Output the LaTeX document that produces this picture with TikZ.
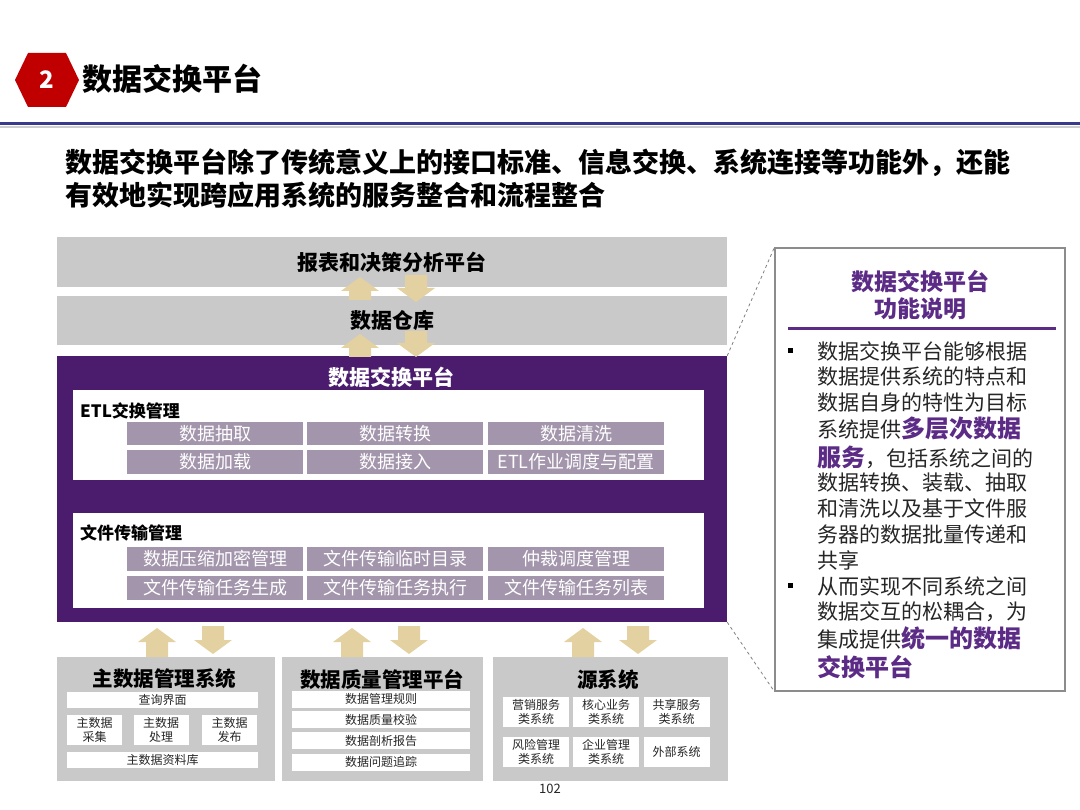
\documentclass[tikz,border=0pt]{standalone}
\usepackage{fontspec}
\setmainfont{Noto Sans CJK SC}
\definecolor{hexred}{HTML}{C00000}
\definecolor{navyline}{HTML}{3A3A8C}
\definecolor{boxgray}{HTML}{C9C9C9}
\definecolor{xpurple}{HTML}{4B1C6E}
\definecolor{cellpurple}{HTML}{A396AC}
\definecolor{arrtan}{HTML}{E4D1A1}
\definecolor{hlpurple}{HTML}{5B2B86}
\definecolor{bodytext}{HTML}{262626}
\newcommand\fsz[1]{\fontsize{#1}{#1}\selectfont}
\newcommand\hl[1]{{\color{hlpurple}\bfseries\fsz{24}#1}}
\tikzset{
  gbox/.style={rectangle, fill=boxgray, inner sep=0pt, outer sep=0pt, text=black},
  wbox/.style={rectangle, fill=white, inner sep=0pt, outer sep=0pt},
  cell/.style={rectangle, fill=cellpurple, text=white, inner sep=0pt, outer sep=0pt, font=\fsz{18}},
  wcell/.style={rectangle, fill=white, text=bodytext, inner sep=0pt, outer sep=0pt, align=center, font=\fontsize{12}{14}\selectfont},
  lbl/.style={anchor=west, inner sep=0pt, font=\bfseries\fsz{17}, text=black},
  btitle/.style={inner sep=0pt, font=\bfseries\fsz{20.5}, text=black},
  ptext/.style={anchor=west, inner sep=0pt, font=\fsz{21}, text=bodytext},
  bullet/.style={rectangle, fill=black, minimum size=5pt, inner sep=0pt},
  upa/.pic={\fill[arrtan] (0,0) -- (19,14) -- (11,14) -- (11,#1) -- (-11,#1) -- (-11,14) -- (-19,14) -- cycle;},
  dna/.pic={\fill[arrtan] (0,0) -- (19,-14) -- (11,-14) -- (11,-#1) -- (-11,-#1) -- (-11,-14) -- (-19,-14) -- cycle;},
}
\begin{document}
\begin{tikzpicture}[x=1pt,y=-1pt]
\useasboundingbox (0,0) rectangle (1080,810);
\fill[white] (0,0) rectangle (1080,810);

% header
\fill[hexred] (15,80) -- (28,53) -- (66,53) -- (79,80) -- (66,107) -- (28,107) -- cycle;
\node[text=white, font=\bfseries\fsz{24}, inner sep=0pt] (num) at (47,80) {2};
\node[anchor=west, inner sep=0pt, font=\bfseries\fsz{30}] (title) at (82,79) {数据交换平台};
\draw[black!20, line width=2pt] (0,127) -- (1080,127);
\draw[navyline, line width=3pt] (0,124) -- (1080,124);

\node[anchor=west, inner sep=0pt, font=\bfseries\fsz{27}] (sub1) at (65,163) {数据交换平台除了传统意义上的接口标准、信息交换、系统连接等功能外，还能};
\node[anchor=west, inner sep=0pt, font=\bfseries\fsz{27}] (sub2) at (65,195) {有效地实现跨应用系统的服务整合和流程整合};

% upper boxes
\node[gbox, minimum width=670pt, minimum height=50pt, font=\bfseries\fsz{21}] (rpt) at (392,262) {报表和决策分析平台};
\node[gbox, minimum width=670pt, minimum height=49pt, font=\bfseries\fsz{21}] (dw) at (392,320.5) {数据仓库};

% exchange platform
\node[rectangle, fill=xpurple, inner sep=0pt, minimum width=670pt, minimum height=266pt] (xchg) at (392,489) {};
\node[text=white, inner sep=0pt, font=\bfseries\fsz{21}] (xtitle) at (391,377) {数据交换平台};

\node[wbox, minimum width=631pt, minimum height=90pt] (etl) at (388.5,435) {};
\node[lbl] (etllbl) at (80,411) {ETL交换管理};
\node[cell, minimum width=176pt, minimum height=23pt] (e11) at (215,433.5) {数据抽取};
\node[cell, minimum width=176pt, minimum height=23pt] (e12) at (395,433.5) {数据转换};
\node[cell, minimum width=176pt, minimum height=23pt] (e13) at (576,433.5) {数据清洗};
\node[cell, minimum width=176pt, minimum height=24pt] (e21) at (215,462) {数据加载};
\node[cell, minimum width=176pt, minimum height=24pt] (e22) at (395,462) {数据接入};
\node[cell, minimum width=176pt, minimum height=24pt] (e23) at (576,462) {ETL作业调度与配置};

\node[wbox, minimum width=631pt, minimum height=95pt] (ftm) at (388.5,560.5) {};
\node[lbl] (ftmlbl) at (80,533) {文件传输管理};
\node[cell, minimum width=176pt, minimum height=24pt] (f11) at (215,559) {数据压缩加密管理};
\node[cell, minimum width=176pt, minimum height=24pt] (f12) at (395,559) {文件传输临时目录};
\node[cell, minimum width=176pt, minimum height=24pt] (f13) at (576,559) {仲裁调度管理};
\node[cell, minimum width=176pt, minimum height=24pt] (f21) at (215,587.5) {文件传输任务生成};
\node[cell, minimum width=176pt, minimum height=24pt] (f22) at (395,587.5) {文件传输任务执行};
\node[cell, minimum width=176pt, minimum height=24pt] (f23) at (576,587.5) {文件传输任务列表};

% bottom boxes
\node[gbox, minimum width=218pt, minimum height=124pt] (mdm) at (166,719) {};
\node[btitle] (mdmt) at (164.5,679) {主数据管理系统};
\node[wcell, minimum width=191pt, minimum height=16pt] (m1) at (162.5,699.5) {查询界面};
\node[wcell, minimum width=55pt, minimum height=30pt] (m2) at (94.5,730) {主数据\\采集};
\node[wcell, minimum width=55pt, minimum height=30pt] (m3) at (161,730) {主数据\\处理};
\node[wcell, minimum width=55pt, minimum height=30pt] (m4) at (229.5,730) {主数据\\发布};
\node[wcell, minimum width=191pt, minimum height=16pt] (m5) at (162.5,760) {主数据资料库};

\node[gbox, minimum width=201pt, minimum height=124pt] (dq) at (382.5,719) {};
\node[btitle] (dqt) at (382,680) {数据质量管理平台};
\node[wcell, minimum width=178pt, minimum height=17pt] (q1) at (381,699) {数据管理规则};
\node[wcell, minimum width=178pt, minimum height=17pt] (q2) at (381,719.5) {数据质量校验};
\node[wcell, minimum width=178pt, minimum height=17pt] (q3) at (381,740.5) {数据剖析报告};
\node[wcell, minimum width=178pt, minimum height=17pt] (q4) at (381,762) {数据问题追踪};

\node[gbox, minimum width=235pt, minimum height=124pt] (src) at (610.5,719) {};
\node[btitle] (srct) at (608,680) {源系统};
\node[wcell, minimum width=66pt, minimum height=30pt] (s1) at (536,712) {营销服务\\类系统};
\node[wcell, minimum width=66pt, minimum height=30pt] (s2) at (606,712) {核心业务\\类系统};
\node[wcell, minimum width=66pt, minimum height=30pt] (s3) at (676.5,712) {共享服务\\类系统};
\node[wcell, minimum width=66pt, minimum height=30pt] (s4) at (536,752) {风险管理\\类系统};
\node[wcell, minimum width=66pt, minimum height=30pt] (s5) at (606,752) {企业管理\\类系统};
\node[wcell, minimum width=66pt, minimum height=30pt] (s6) at (676.5,752) {外部系统};

\node[inner sep=0pt, font=\fsz{13}, text=bodytext] (page) at (550,789) {102};

% block arrows
\pic at (360,277) {upa=23};
\pic at (416,302) {dna=27};
\pic at (360,334) {upa=23};
\pic at (416,357) {dna=26};
\pic at (157,628) {upa=29};
\pic at (213,654) {dna=28};
\pic at (352,628) {upa=29};
\pic at (409,654) {dna=28};
\pic at (583,628) {upa=29};
\pic at (638,654) {dna=28};

% right panel
\node[rectangle, draw=black!45, line width=1.2pt, fill=white, minimum width=290pt, minimum height=443pt, inner sep=0pt] (panel) at (920,469.5) {};
\draw[black!50, dashed, line width=0.8pt] (xchg.north east) -- (panel.north west);
\draw[black!50, dashed, line width=0.8pt] (xchg.south east) -- (panel.south west);
\node[inner sep=0pt, font=\bfseries\fsz{23}, text=hlpurple] (pt1) at (920,282) {数据交换平台};
\node[inner sep=0pt, font=\bfseries\fsz{23}, text=hlpurple] (pt2) at (920,309) {功能说明};
\coordinate (rl) at (788,329);
\coordinate (rr) at (1056,329);
\draw[hlpurple, line width=3pt] (rl) -- (rr);
\node[bullet] (b1) at (790,351) {};
\node[bullet] (b2) at (790,585) {};
\node[ptext] (l1) at (817,351) {数据交换平台能够根据};
\node[ptext] (l2) at (817,377) {数据提供系统的特点和};
\node[ptext] (l3) at (817,403) {数据自身的特性为目标};
\node[ptext] (l4) at (817,428) {系统提供\hl{多层次数据}};
\node[ptext] (l5) at (817,457) {\hl{服务}，包括系统之间的};
\node[ptext] (l6) at (817,483) {数据转换、装载、抽取};
\node[ptext] (l7) at (817,509) {和清洗以及基于文件服};
\node[ptext] (l8) at (817,535) {务器的数据批量传递和};
\node[ptext] (l9) at (817,560) {共享};
\node[ptext] (l10) at (817,586) {从而实现不同系统之间};
\node[ptext] (l11) at (817,612) {数据交互的松耦合，为};
\node[ptext] (l12) at (817,638) {集成提供\hl{统一的数据}};
\node[ptext] (l13) at (817,667) {\hl{交换平台}};
\end{tikzpicture}
\end{document}
